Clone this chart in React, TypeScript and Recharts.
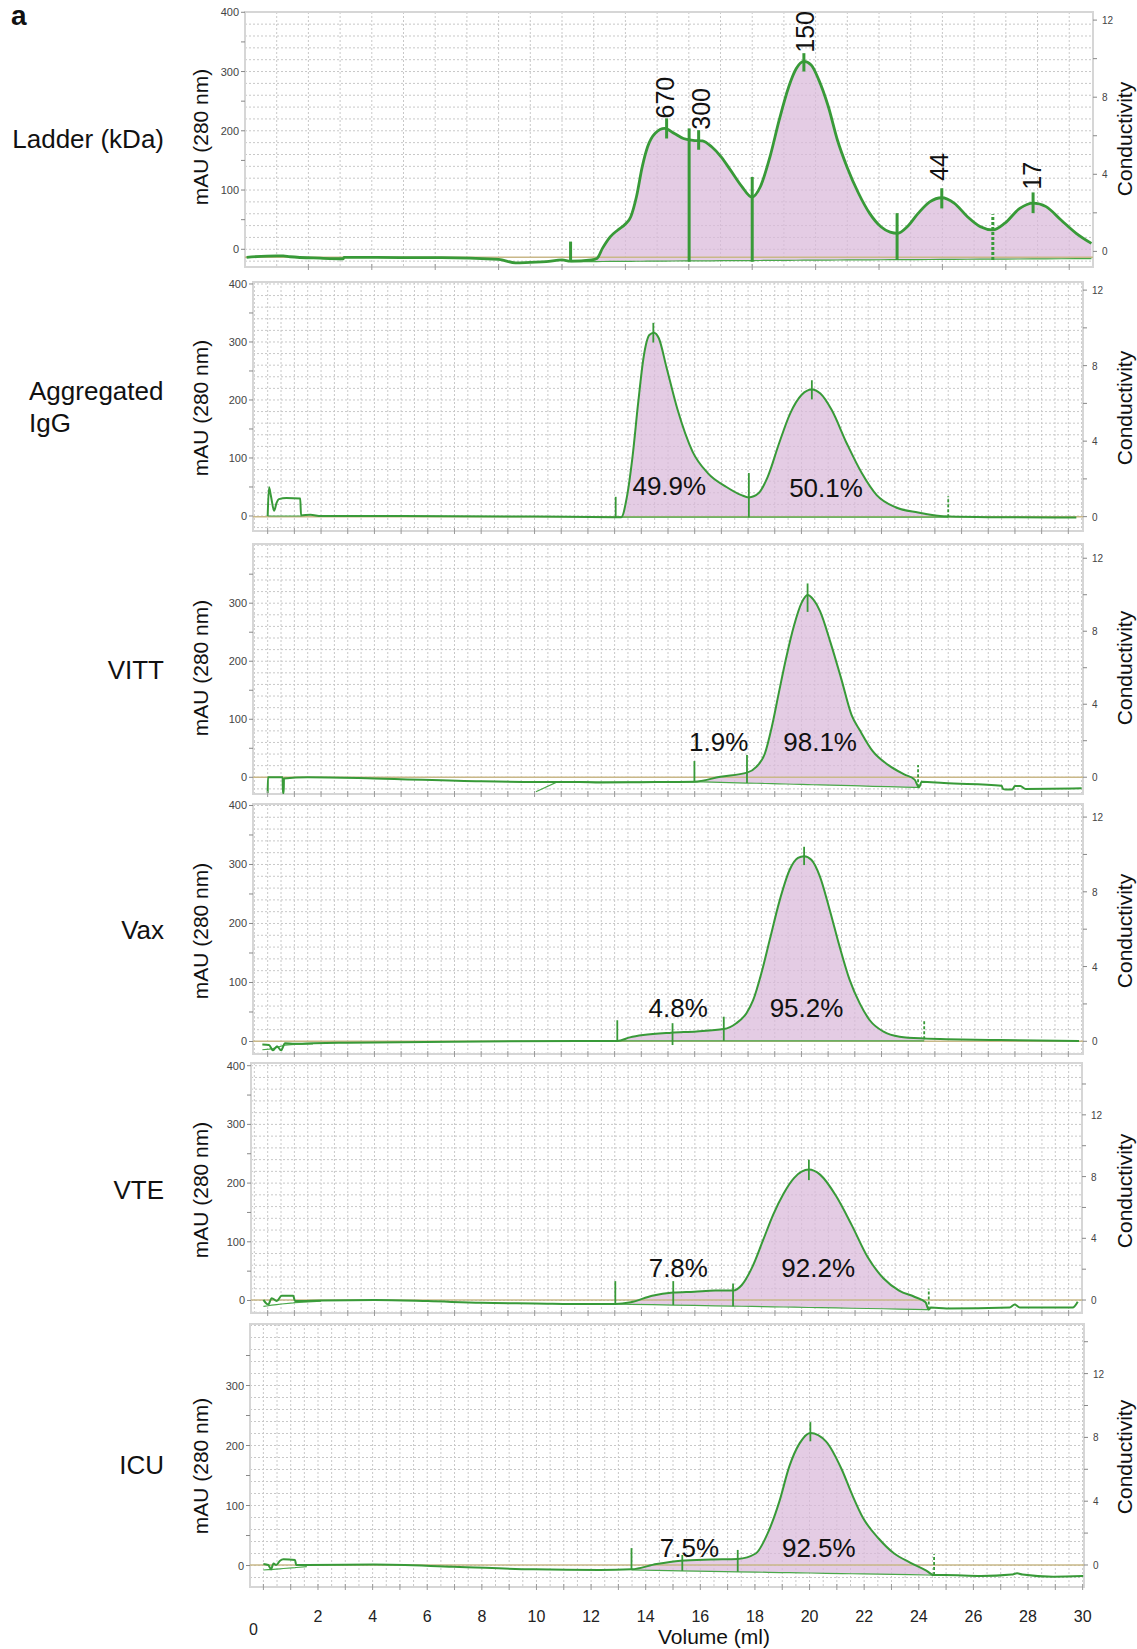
import React from 'react';
import {
  ComposedChart, Line, Area, XAxis, YAxis, CartesianGrid,
  ReferenceLine, ReferenceArea, ReferenceDot,
} from 'recharts';

const FONT = "'Liberation Sans', Arial, Helvetica, sans-serif";
const GREEN = '#389a38';
const BASE_GREEN = '#4aa84a';
const PINK = '#d9b9d9';
const TAN = '#c9b888';
const GRID = '#c8c8c8';
const FRAME = '#d6d6d6';
const PAGE_W = 1137;
const PAD = 6;

// tick labels
const volumeTickLabels = [0, 2, 4, 6, 8, 10, 12, 14, 16, 18, 20, 22, 24, 26, 28, 30];
const mauTickLabels = [0, 100, 200, 300, 400];
const condTickLabels = [0, 4, 8, 12];

// Ladder (kDa)
const ladderVol = [0.05, 1.0, 1.21, 1.42, 2.37, 3.1, 3.12, 4.89, 6.2, 8.0, 8.53, 9.0, 9.5, 10.0, 10.27, 10.93, 11.1, 11.28, 11.52, 11.76, 12.0, 12.17, 12.35, 12.53, 12.7, 12.94, 13.24, 13.53, 13.83, 14.13, 14.43, 14.72, 15.02, 15.31, 15.67, 15.99, 16.26, 16.56, 16.85, 17.15, 17.39, 17.63, 17.86, 18.1, 18.4, 18.69, 18.99, 19.35, 19.7, 20.06, 20.35, 20.59, 20.89, 21.24, 21.6, 21.98, 22.37, 22.79, 23.2, 23.59, 23.97, 24.44, 24.86, 25.27, 25.75, 26.22, 26.7];
const ladderAbs = [-13.5, -11, -11, -12.6, -15, -16, -13.5, -14, -14, -17, -23, -22, -21, -18, -20, -18, -15.6, 2, 21, 32.6, 42.7, 55, 89, 139, 173, 196, 204, 196, 187, 184, 183, 173, 156, 134, 106, 88, 106, 156, 218, 274, 305, 317, 311, 286, 241, 184, 139, 95, 61, 38, 29, 27, 38, 61, 80, 87, 78, 55, 38, 32.6, 44, 69, 78, 72, 49, 27, 10];
const ladderBase = [null, null, null, null, null, null, null, null, null, null, null, null, null, null, -21, -20.8, -20.7, -20.6, -20.5, -20.4, -20.4, -20.3, -20.2, -20.2, -20.1, -20, -19.9, -19.8, -19.7, -19.6, -19.5, -19.4, -19.3, -19.2, -19.1, -19, -18.9, -18.8, -18.7, -18.6, -18.5, -18.4, -18.4, -18.3, -18.2, -18.1, -18, -17.9, -17.8, -17.7, -17.6, -17.5, -17.4, -17.3, -17.2, -17.1, -17, -16.8, -16.7, -16.6, -16.5, -16.4, -16.3, -16.2, -16, -15.9, -15.8];
const ladderMarks = [[10.27, -21, 13, 0], [14.01, -21, 204, 0], [13.3, 187, 221, 0], [14.31, 168, 201, 0], [16.0, -21, 122, 0], [17.63, 300, 331, 0], [20.57, -18, 61, 0], [21.98, 69, 103, 0], [23.59, -18, 59, 1], [24.86, 61, 96, 0]];
const ladderNotes = [['670', 13.24, 256], ['300', 14.37, 237], ['150', 17.66, 367], ['44', 21.9, 139], ['17', 24.84, 124]];

// Aggregated IgG
const aggVol = [0.0, 0.05, 0.12, 0.24, 0.33, 0.42, 0.7, 1.22, 1.25, 1.6, 2.0, 5.0, 10.0, 13.04, 13.25, 13.46, 13.67, 13.88, 14.09, 14.3, 14.47, 14.66, 14.94, 15.36, 15.92, 16.49, 17.19, 17.75, 18.03, 18.39, 18.74, 19.16, 19.58, 20.01, 20.39, 20.71, 21.13, 21.7, 22.26, 22.82, 23.53, 24.37, 25.5, 27.0, 30.3];
const aggAbs = [0, 49.5, 35, 9, 22, 29, 31, 30, 1, 2, 0, 0, -1, -2, -2, 33, 102, 194, 275, 312, 316, 306, 257, 183, 111, 74, 50, 36, 32, 39, 68, 125, 177, 209, 218, 211, 183, 125, 74, 36, 15, 6, -1, -2, -2.5];
const aggBase = [0, 0, 0, 0, 0, 0, 0, 0, 0, null, null, null, null, -2, -2, -2, -2, -2, -2, -2, -2, -2, -2, -2, -2, -2, -2, -2, -2, -2, -2, -2, -2, -2, -2, -2, -2, -2, -2, -2, -2, -2, -2, null, null];
const aggMarks = [[13.04, -2, 33, 0], [18.03, -2.5, 74, 0], [14.45, 299, 333, 0], [20.39, 201, 234, 0], [25.5, -2, 34, 1]];
const aggNotes = [['49.9%', 15.05, 52], ['50.1%', 20.92, 48]];

// VITT
const vittVol = [0.0, 0.01, 0.56, 0.57, 0.6, 0.61, 1.5, 4.0, 8.0, 10.05, 10.85, 11.7, 12.45, 14.0, 15.99, 16.96, 17.96, 18.31, 18.63, 18.89, 19.15, 19.41, 19.72, 20.0, 20.23, 20.45, 20.7, 21.09, 21.49, 21.88, 22.2, 22.67, 23.26, 23.85, 24.24, 24.41, 24.5, 25.34, 27.5, 27.55, 27.65, 27.9, 28.0, 28.2, 28.4, 30.5];
const vittAbs = [-27, 0, 0, -27, -27, -2, 0, -2, -7, -8, -8, -8, -9, -8.5, -7.6, 1, 8, 18, 41, 87, 145, 202, 261, 300, 314, 306, 286, 232, 170, 107, 80, 45, 21, 5, -4, -17.5, -7.6, -10, -14.5, -20, -21, -21, -15, -15, -20, -19];
const vittBase = [null, null, null, null, null, null, null, null, null, -25, -8, -8, -8.5, -8.2, -7.6, -8.7, -9.9, -10.3, -10.7, -11, -11.3, -11.6, -12, -12.3, -12.6, -12.9, -13.2, -13.6, -14.1, -14.5, -14.9, -15.5, -16.2, -16.9, -17.3, -17.5, null, null, null, null, null, null, null, null, null, null];
const vittMarks = [[15.99, -8, 28, 0], [17.96, -10, 38.5, 0], [20.23, 285, 334, 0], [24.37, -17, 21, 1]];
const vittNotes = [['1.9%', 16.9, 61], ['98.1%', 20.7, 61]];

// Vax
const vaxVol = [-0.2, 0.05, 0.2, 0.35, 0.5, 0.65, 1.0, 1.7, 3.0, 8.0, 11.7, 13.1, 13.57, 14.07, 15.13, 16.07, 17.09, 17.56, 17.94, 18.19, 18.5, 18.81, 19.19, 19.56, 19.87, 20.1, 20.37, 20.69, 21.06, 21.43, 21.81, 22.18, 22.56, 23.06, 23.68, 24.6, 25.43, 27.43, 30.4];
const vaxAbs = [-5, -6, -15, -8, -15, -3, -4, -3, -2, 0, 1, 1, 7, 11, 15, 17, 21, 31, 48, 70, 116, 172, 240, 291, 311, 314, 308, 280, 223, 161, 104, 65, 36, 17, 8, 5, 4, 2.5, 1];
const vaxBase = [-14, -13, -12, -10, -8, -6, -5, -4, null, null, null, 1, 1, 1, 1, 1, 1, 1, 1, 1, 1, 1, 1, 1, 1, 1, 1, 1, 1, 1, 1, 1, 1, 1, 1, 1, null, null, null];
const vaxMarks = [[13.1, 1, 36, 0], [15.17, -6, 31, 0], [17.09, 1, 42, 0], [20.1, 299, 330, 0], [24.6, 4, 36, 1]];
const vaxNotes = [['4.8%', 15.38, 56], ['95.2%', 20.19, 56]];

// VTE
const vteVol = [-0.16, 0.02, 0.15, 0.34, 0.52, 0.96, 1.02, 2.0, 4.0, 6.0, 8.0, 10.0, 12.0, 13.02, 13.6, 14.4, 15.19, 15.98, 16.76, 17.43, 17.75, 18.14, 18.54, 18.93, 19.32, 19.72, 20.27, 20.7, 21.29, 21.88, 22.47, 23.06, 23.65, 24.24, 24.64, 24.76, 24.84, 25.43, 27.79, 27.98, 28.17, 30.15, 30.34];
const vteAbs = [1, -7, 4, -1, 8, 8, -1, 0, 1, -1, -4, -5, -6, -6, -3, 8, 13.5, 15, 17, 17, 26, 56, 101, 146, 182, 209, 223, 214, 178, 128, 74, 38, 17, 6, -3, -15.5, -12, -13.5, -12, -7, -12, -12, -2];
const vteBase = [-10, -9, -8, -7, -6, -4, -3.5, -1, null, null, null, null, null, -6, -6.5, -7.1, -7.8, -8.4, -9, -9.6, -9.8, -10.1, -10.5, -10.8, -11.1, -11.4, -11.9, -12.2, -12.7, -13.2, -13.6, -14.1, -14.6, -15.1, -15.4, -15.5, null, null, null, null, null, null, null];
const vteMarks = [[13.02, -6, 33, 0], [15.19, -7.8, 33, 0], [17.43, -9.6, 29, 0], [20.27, 205, 240, 0], [24.76, -15.5, 20, 1]];
const vteNotes = [['7.8%', 15.38, 56], ['92.2%', 20.62, 56]];

// ICU
const icuVol = [0.0, 0.18, 0.28, 0.37, 0.47, 0.61, 0.73, 1.16, 1.2, 1.59, 4.03, 6.96, 9.89, 12.33, 13.48, 14.4, 15.28, 16.38, 17.37, 18.03, 18.47, 18.91, 19.25, 19.64, 20.03, 20.6, 21.18, 21.56, 21.95, 22.53, 23.1, 23.68, 24.26, 24.56, 24.96, 26.28, 27.4, 27.6, 27.8, 28.92, 30.02];
const icuAbs = [2.5, 0.8, -6.4, 3.5, 0.8, 8, 10.3, 9.2, 0.8, 0.8, 1.5, -2, -6.4, -7.5, -6.4, 2.5, 8, 10, 11, 20, 54, 109, 164, 204, 221, 207, 160, 118, 80, 45, 20, 5, -8, -16, -16, -17.5, -15, -13, -15, -18.6, -17.5];
const icuBase = [-7.5, -7, -7, -6.5, -6, -5.5, -5, -3.5, -3.3, -2, null, null, null, null, -7.5, -8.2, -8.9, -9.7, -10.5, -11, -11.3, -11.7, -11.9, -12.2, -12.5, -13, -13.4, -13.7, -14, -14.4, -14.9, -15.3, -15.8, -16, null, null, null, null, null, null, null];
const icuMarks = [[13.48, -7.5, 29, 0], [15.34, -9, 17.5, 0], [17.37, -10.5, 26, 0], [20.03, 207, 239, 0], [24.56, -16, 18.7, 1]];
const icuNotes = [['7.5%', 15.6, 29], ['92.5%', 20.34, 29]];

const range = (a: number, b: number, s: number) => {
  const out: number[] = [];
  for (let i = 0; a + i * s <= b + 1e-9; i++) out.push(+(a + i * s).toFixed(3));
  return out;
};

const panels = [
  {
    id: 'ladder', top: 12, bottom: 267, left: 245, right: 1093,
    xDomain: [0, 26.75], yDomain: [-29.9, 400.5], condDomain: [-0.81, 12.42],
    vol: ladderVol, abs: ladderAbs, base: ladderBase, fillFrom: 10.27, fillTo: 26.7,
    marks: ladderMarks, notes: ladderNotes, rotate: true,
    maxMau: 400, condMax: 12, xMarks: range(2, 26, 2), gridX: range(0, 26, 1),
    tan: -0.3, lineW: 2.8, markW: 3, mauY: 137, condY: 139, axisH: 8,
  },
  {
    id: 'agg', top: 282, bottom: 531, left: 253, right: 1083,
    xDomain: [-0.55, 30.55], yDomain: [-25.9, 403.4], condDomain: [-0.76, 12.43],
    vol: aggVol, abs: aggAbs, base: aggBase, fillFrom: 13.04, fillTo: 25.5,
    marks: aggMarks, notes: aggNotes, rotate: false,
    maxMau: 400, condMax: 12, xMarks: range(0, 30, 1), gridX: range(-0.5, 30.5, 0.5),
    tan: 0, lineW: 2, markW: 1.8, mauY: 408, condY: 408, axisH: 8,
  },
  {
    id: 'vitt', top: 544, bottom: 794, left: 253, right: 1083,
    xDomain: [-0.55, 30.55], yDomain: [-28.8, 402], condDomain: [-0.92, 12.78],
    vol: vittVol, abs: vittAbs, base: vittBase, fillFrom: 15.99, fillTo: 24.41,
    marks: vittMarks, notes: vittNotes, rotate: false,
    maxMau: 350, condMax: 12, xMarks: range(0, 30, 1), gridX: range(-0.5, 30.5, 0.5),
    tan: 0, lineW: 2, markW: 1.8, mauY: 668, condY: 668, axisH: 8,
  },
  {
    id: 'vax', top: 804, bottom: 1054, left: 253, right: 1083,
    xDomain: [-0.55, 30.55], yDomain: [-21.2, 402.5], condDomain: [-0.68, 12.7],
    vol: vaxVol, abs: vaxAbs, base: vaxBase, fillFrom: 13.1, fillTo: 24.6,
    marks: vaxMarks, notes: vaxNotes, rotate: false,
    maxMau: 400, condMax: 12, xMarks: range(0, 30, 1), gridX: range(-0.5, 30.5, 0.5),
    tan: 0, lineW: 2, markW: 1.8, mauY: 931, condY: 931, axisH: 8,
  },
  {
    id: 'vte', top: 1063, bottom: 1313, left: 251, right: 1082,
    xDomain: [-0.625, 30.5], yDomain: [-21.3, 404.6], condDomain: [-0.84, 15.36],
    vol: vteVol, abs: vteAbs, base: vteBase, fillFrom: 13.02, fillTo: 24.76,
    marks: vteMarks, notes: vteNotes, rotate: false,
    maxMau: 400, condMax: 14, xMarks: range(0, 30, 1), gridX: range(-0.5, 30.5, 0.5),
    tan: 0, lineW: 2, markW: 1.8, mauY: 1190, condY: 1191, axisH: 8,
  },
  {
    id: 'icu', top: 1324, bottom: 1587, left: 250, right: 1084,
    xDomain: [-0.49, 30.05], yDomain: [-35.8, 402.5], condDomain: [-1.38, 15.11],
    vol: icuVol, abs: icuAbs, base: icuBase, fillFrom: 13.48, fillTo: 24.56,
    marks: icuMarks, notes: icuNotes, rotate: false,
    maxMau: 350, condMax: 14, xMarks: range(0, 30, 1), gridX: range(0, 30, 0.5),
    tan: 0, lineW: 2, markW: 1.8, mauY: 1466, condY: 1457, axisH: 62, showVolume: true,
  },
];

const sampleNames = [
  { lines: ['Ladder (kDa)'], right: 164, baseline: 148 },
  { lines: ['Aggregated', 'IgG'], left: 29, baseline: 400, step: 31.7 },
  { lines: ['VITT'], right: 164, baseline: 679 },
  { lines: ['Vax'], right: 164, baseline: 939 },
  { lines: ['VTE'], right: 164, baseline: 1199 },
  { lines: ['ICU'], right: 164, baseline: 1474 },
];

function volTick(props: any, withLabels: boolean) {
  const { x, y, payload } = props;
  const v = payload.value;
  const showLabel = withLabels && volumeTickLabels.includes(v);
  return (
    <g>
      <line x1={x} x2={x} y1={y - 3} y2={y + 3} stroke="#9a9a9a" strokeWidth={1} />
      {showLabel && (
        <text x={v === 0 ? x - 10 : x} y={y + (v === 0 ? 48 : 35)} textAnchor="middle"
          fontSize={16} fontFamily={FONT} fill="#222">{v}</text>
      )}
    </g>
  );
}

function mauTick(props: any) {
  const { x, y, payload } = props;
  const v = payload.value;
  return (
    <g>
      <line x1={x - 4} x2={x} y1={y} y2={y} stroke="#888" />
      {mauTickLabels.includes(v) && (
        <text x={x - 6} y={y + 4} textAnchor="end" fontSize={11} fontFamily={FONT} fill="#444">{v}</text>
      )}
    </g>
  );
}

function condTick(props: any) {
  const { x, y, payload } = props;
  const v = payload.value;
  return (
    <g>
      <line x1={x} x2={x + 4} y1={y} y2={y} stroke="#888" />
      {condTickLabels.includes(v) && (
        <text x={x + 9} y={y + 4} textAnchor="start" fontSize={10} fontFamily={FONT} fill="#444">{v}</text>
      )}
    </g>
  );
}

function ChromPanel({ p }: { p: any }) {
  const chartTop = p.top - PAD;
  const height = p.bottom - p.top + PAD + p.axisH;
  const curve = p.vol.map((v: number, i: number) => ({ v, a: p.abs[i] }));
  const baseLine = p.vol.map((v: number, i: number) => ({ v, b: p.base[i] }));
  const fill = p.vol
    .map((v: number, i: number) => ({ v, r: [p.base[i], p.abs[i]], ok: p.base[i] !== null }))
    .filter((d: any) => d.ok && d.v >= p.fillFrom - 1e-9 && d.v <= p.fillTo + 1e-9)
    .map((d: any) => ({ v: d.v, r: d.r }));
  const gridY = range(-20, 400, 20).filter((g) => g > p.yDomain[0] && g < p.yDomain[1]);
  const mauTicks = range(0, p.maxMau, 50);
  const condTicks = range(0, p.condMax, 2);

  const mauTitle = () => (
    <text x={208} y={p.mauY - chartTop} transform={`rotate(-90 208 ${p.mauY - chartTop})`}
      textAnchor="middle" fontSize={21} fontFamily={FONT} fill="#111">mAU (280 nm)</text>
  );
  const condTitle = () => (
    <text x={1132} y={p.condY - chartTop} transform={`rotate(-90 1132 ${p.condY - chartTop})`}
      textAnchor="middle" fontSize={21} fontFamily={FONT} fill="#111">Conductivity</text>
  );
  const volumeTitle = () => (
    <text x={714} y={1644 - chartTop} textAnchor="middle" fontSize={21} fontFamily={FONT} fill="#111">Volume (ml)</text>
  );

  return (
    <div style={{ position: 'absolute', left: 0, top: chartTop }}>
      <ComposedChart width={PAGE_W} height={height}
        margin={{ top: PAD, right: PAGE_W - p.right - 40, bottom: 0, left: p.left - 40 }}>
        <CartesianGrid horizontalValues={gridY} verticalValues={p.gridX} stroke={GRID} strokeDasharray="2 2" />
        <XAxis type="number" dataKey="v" domain={p.xDomain} allowDataOverflow ticks={p.xMarks} interval={0}
          height={p.axisH} axisLine={false} tickLine={false} tickSize={0} tickMargin={0}
          tick={(t: any) => volTick(t, !!p.showVolume)} label={p.showVolume ? volumeTitle : undefined} />
        <YAxis type="number" domain={p.yDomain} allowDataOverflow ticks={mauTicks} interval={0} width={40}
          axisLine={false} tickLine={false} tickSize={0} tickMargin={0} tick={mauTick} label={mauTitle} />
        <YAxis yAxisId="cond" orientation="right" type="number" domain={p.condDomain} allowDataOverflow
          ticks={condTicks} interval={0} width={40} axisLine={false} tickLine={false} tickSize={0} tickMargin={0}
          tick={condTick} label={condTitle} />
        <ReferenceLine yAxisId="cond" y={p.tan} stroke={TAN} strokeWidth={1.5} ifOverflow="visible" />
        <Area data={fill} dataKey="r" type="monotone" fill={PINK} fillOpacity={0.72} stroke="none"
          isAnimationActive={false} />
        <Line data={baseLine} dataKey="b" type="linear" stroke={BASE_GREEN} strokeWidth={1.2} dot={false}
          activeDot={false} isAnimationActive={false} connectNulls={false} />
        <Line data={curve} dataKey="a" type="monotone" stroke={GREEN} strokeWidth={p.lineW} dot={false}
          activeDot={false} isAnimationActive={false} />
        {p.marks.map((m: number[], i: number) => (
          <ReferenceLine key={`m${i}`} segment={[{ x: m[0], y: m[1] }, { x: m[0], y: m[2] }]}
            stroke={GREEN} strokeWidth={p.markW} strokeDasharray={m[3] ? '3 2' : undefined} ifOverflow="visible" />
        ))}
        {p.notes.map((n: any[], i: number) => (
          <ReferenceDot key={`n${i}`} x={n[1]} y={n[2]} r={0} ifOverflow="visible"
            shape={(d: any) => (
              <text x={d.cx} y={d.cy} textAnchor="middle" dominantBaseline="central"
                transform={p.rotate ? `rotate(-90 ${d.cx} ${d.cy})` : undefined}
                fontSize={p.rotate ? 25 : 26} fontFamily={FONT} fill="#111">{n[0]}</text>
            )} />
        ))}
        <ReferenceArea x1={p.xDomain[0]} x2={p.xDomain[1]} y1={p.yDomain[0]} y2={p.yDomain[1]}
          fill="none" fillOpacity={0} stroke={FRAME} strokeWidth={2} ifOverflow="visible" />
      </ComposedChart>
    </div>
  );
}

export default function App() {
  return (
    <div style={{ position: 'absolute', left: 0, top: 0, width: PAGE_W, height: 1649, background: '#fff', fontFamily: FONT }}>
      <div style={{ position: 'absolute', left: 11, top: 0, fontSize: 28, lineHeight: 'normal', fontWeight: 'bold', color: '#111' }}>a</div>
      {sampleNames.map((s, i) => s.lines.map((line, j) => {
        const baseline = s.baseline + j * (s.step || 0);
        const style: React.CSSProperties = {
          position: 'absolute', top: baseline - 22, fontSize: 26, lineHeight: '26px', color: '#111', whiteSpace: 'nowrap',
        };
        if (s.right !== undefined) { style.left = 0; style.width = s.right; style.textAlign = 'right'; }
        else { style.left = s.left; }
        return <div key={`${i}-${j}`} style={style}>{line}</div>;
      }))}
      {panels.map((p) => <ChromPanel key={p.id} p={p} />)}
    </div>
  );
}
